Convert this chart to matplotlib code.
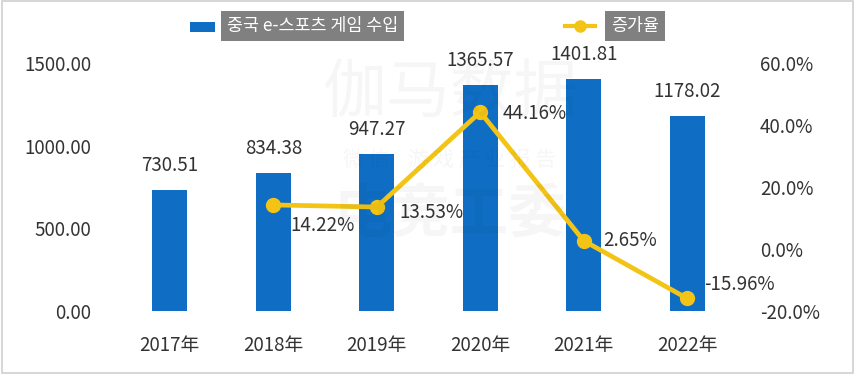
import matplotlib
matplotlib.use("Agg")
import matplotlib.pyplot as plt
from matplotlib.patches import Rectangle
from matplotlib.lines import Line2D

plt.rcParams['font.family'] = ['Noto Sans CJK SC', 'Noto Sans CJK KR', 'DejaVu Sans']

years = ["2017年", "2018年", "2019年", "2020年", "2021年", "2022年"]
revenue = [730.51, 834.38, 947.27, 1365.57, 1401.81, 1178.02]
growth_years_idx = [1, 2, 3, 4, 5]
growth = [14.22, 13.53, 44.16, 2.65, -15.96]
left_ticks = [0, 500, 1000, 1500]
right_ticks = [-20, 0, 20, 40, 60]
legend_labels = ["중국 e-스포츠 게임 수입", "증가율"]

BAR = "#0F6EC4"
LINE = "#F3C416"
TXT = "#333333"

W, H = 855, 377
fig = plt.figure(figsize=(W / 100, H / 100), dpi=100)
fig.patch.set_facecolor("white")

ax = fig.add_axes([118 / W, 1 - 311 / H, (739 - 118) / W, (311 - 63) / H])
ax2 = ax.twinx()

x = list(range(len(years)))
ax.bar(x, revenue, width=0.34, color=BAR, zorder=2)
ax.set_xlim(-0.5, 5.5)
ax.set_ylim(0, 1500)
ax.set_yticks(left_ticks)
ax.set_yticklabels([f"{v:.2f}" for v in left_ticks])
ax.set_xticks(x)
ax.set_xticklabels(years)
for s in ax.spines.values():
    s.set_visible(False)
for s in ax2.spines.values():
    s.set_visible(False)
ax.tick_params(axis="both", length=0, labelsize=13.5, colors=TXT)
ax.tick_params(axis="y", pad=19)
ax.tick_params(axis="x", pad=17)

for xi, v in zip(x, revenue):
    ax.annotate(f"{v:.2f}", (xi, v), xytext=(0, 10), textcoords="offset points",
                ha="center", va="bottom", fontsize=13.5, color=TXT, zorder=5)

ax2.set_ylim(-20, 60)
ax2.set_yticks(right_ticks)
ax2.set_yticklabels([f"{v:.1f}%" for v in right_ticks])
ax2.tick_params(axis="y", length=0, labelsize=13.5, colors=TXT, pad=15)
ax2.plot(growth_years_idx, growth, color=LINE, lw=3.4, marker="o", ms=10,
         markerfacecolor=LINE, markeredgecolor=LINE, zorder=4)

offsets = [(12, -15), (16, -4), (16, -1), (14, 0), (12, 10)]
for xi, g, off in zip(growth_years_idx, growth, offsets):
    ax2.annotate(f"{g:.2f}%", (xi, g), xytext=off, textcoords="offset points",
                 ha="left", va="center", fontsize=13.5, color=TXT, zorder=6)

# faint watermark
fig.text(450 / W, 1 - 95 / H, "伽马数据", fontsize=46, color="#000000", alpha=0.035,
         ha="center", va="center", zorder=0)
fig.text(450 / W, 1 - 160 / H, "微 信    游 戏 产 业 报 告", fontsize=15, color="#000000",
         alpha=0.035, ha="center", va="center", zorder=0)
fig.text(450 / W, 1 - 215 / H, "电竞工委", fontsize=42, color="#000000", alpha=0.035,
         ha="center", va="center", zorder=0, fontweight="bold")

# legend
fig.patches.append(Rectangle((190 / W, 1 - 32 / H), 25 / W, 10 / H,
                             transform=fig.transFigure, facecolor=BAR, edgecolor="none"))
fig.text(227 / W, 1 - 26 / H, legend_labels[0], fontsize=12.5, color="white",
         ha="left", va="center",
         bbox=dict(boxstyle="square,pad=0.35", facecolor="#808080", edgecolor="none"))
fig.lines.append(Line2D([565 / W, 595 / W], [1 - 26 / H, 1 - 26 / H], transform=fig.transFigure,
                        color=LINE, lw=3, marker=None))
fig.lines.append(Line2D([580 / W], [1 - 26 / H], transform=fig.transFigure,
                        color=LINE, marker="o", ms=8))
fig.text(611 / W, 1 - 26 / H, legend_labels[1], fontsize=12.5, color="white",
         ha="left", va="center",
         bbox=dict(boxstyle="square,pad=0.35", facecolor="#808080", edgecolor="none"))

# border
fig.patches.append(Rectangle((2 / W, 4 / H), 851 / W, 372 / H, transform=fig.transFigure,
                             facecolor="none", edgecolor="#d0d0d0", lw=1.2))

fig.savefig("out.png", dpi=100)
